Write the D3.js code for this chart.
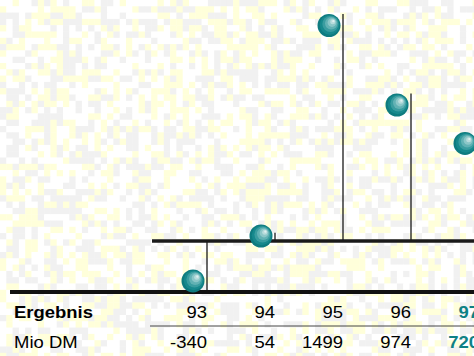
<!DOCTYPE html>
<html>
<head>
<meta charset="utf-8">
<script src="https://cdn.jsdelivr.net/npm/d3@7"></script>
<style>
  html, body { margin: 0; padding: 0; background: #fff; }
  svg { display: block; }
  text { font-family: "Liberation Sans", Arial, Helvetica, sans-serif; }
</style>
</head>
<body>
<svg id="chart" width="474" height="356"></svg>
<script>
// Jahresergebnis in Mio DM
const years = ["93", "94", "95", "96", "97"];
const values = [-340, 54, 1499, 974, 720];
const headerLabel = "Ergebnis";
const unitLabel = "Mio DM";
const currentYear = "97";

const W = 474, H = 356;
const svg = d3.select("#chart");

// dithered paper background
const cell = 6.3;
const bgColors = ["#ffffff", "#ffffda", "#f1f1f1"];
const cols = Math.ceil(W / cell), rows = Math.ceil(H / cell);
const cells = [];
for (let r = 0; r < rows; r++) {
  for (let c = 0; c < cols; c++) {
    let h = (c * 374761393 + r * 668265263) >>> 0;
    h = Math.imul(h ^ (h >>> 13), 1274126177) >>> 0;
    h = (h ^ (h >>> 16)) >>> 0;
    const k = h % 10;
    cells.push({ r, c, color: k < 4 ? bgColors[0] : (k < 7 ? bgColors[1] : bgColors[2]) });
  }
}
svg.append("g").selectAll("rect").data(cells).join("rect")
  .attr("x", d => d.c * cell).attr("y", d => d.r * cell)
  .attr("width", cell + 0.3).attr("height", cell + 0.3)
  .attr("fill", d => d.color);

// scales
const x = d3.scalePoint().domain(years).range([207, 479]);
const y = d3.scaleLinear().domain([0, 1499]).range([241, 14]);
const teal = "#0f8185";
const r = 11.5;
const ballOffset = 14;

// zero line
svg.append("line")
  .attr("x1", 152).attr("x2", W)
  .attr("y1", y(0)).attr("y2", y(0))
  .attr("stroke", "#1a1a1a").attr("stroke-width", 3.6);

// stems
svg.append("g").selectAll("line").data(years).join("line")
  .attr("x1", d => x(d)).attr("x2", d => x(d))
  .attr("y1", y(0))
  .attr("y2", (d, i) => y(values[i]))
  .attr("stroke", "#1a1a1a").attr("stroke-width", 1.3);

// table rule
svg.append("line")
  .attr("x1", 10).attr("x2", W)
  .attr("y1", 292).attr("y2", 292)
  .attr("stroke", "#111").attr("stroke-width", 4);
svg.append("line")
  .attr("x1", 150).attr("x2", W)
  .attr("y1", 326).attr("y2", 326)
  .attr("stroke", "#444").attr("stroke-width", 1);

// shaded balls
const rings = [
  { f: 1.00, s: 0.00, c: "#0e7b7f" },
  { f: 0.86, s: 0.14, c: "#17898d" },
  { f: 0.70, s: 0.30, c: "#3a9da0" },
  { f: 0.54, s: 0.46, c: "#62b2b4" },
  { f: 0.38, s: 0.62, c: "#8cc7c8" },
  { f: 0.22, s: 0.78, c: "#b9dcdc" },
  { f: 0.10, s: 0.90, c: "#e0f0f0" }
];
const balls = years.map((yr, i) => {
  const v = values[i];
  let cy = v >= 0 ? y(v) + r : y(v) - r;
  cy = v >= 0 ? Math.min(cy, y(0) - 5) : cy;
  return { cx: x(yr) - ballOffset, cy };
});
const bg = svg.append("g").selectAll("g").data(balls).join("g")
  .attr("transform", d => `translate(${d.cx},${d.cy})`);
rings.forEach(rg => {
  bg.append("circle")
    .attr("cx", rg.s * r * 0.42)
    .attr("cy", -rg.s * r * 0.42)
    .attr("r", rg.f * r)
    .attr("fill", rg.c);
});

// table text
const rowY1 = 318, rowY2 = 348;
const fs = 16.5, sx = 1.12;
function label(t, px, py, anchor, weight, fill) {
  svg.append("text")
    .attr("transform", `translate(${px},${py}) scale(${sx},1)`)
    .attr("text-anchor", anchor)
    .attr("font-size", fs)
    .attr("font-weight", weight)
    .attr("fill", fill)
    .text(t);
}
label(headerLabel, 14, rowY1, "start", "bold", "#000");
label(unitLabel, 14, rowY2, "start", "normal", "#000");
years.forEach((yr, i) => {
  const hi = yr === currentYear;
  label(yr, x(yr), rowY1, "end", hi ? "bold" : "normal", hi ? teal : "#000");
  label(String(values[i]), x(yr), rowY2, "end", hi ? "bold" : "normal", hi ? teal : "#000");
});
</script>
</body>
</html>
